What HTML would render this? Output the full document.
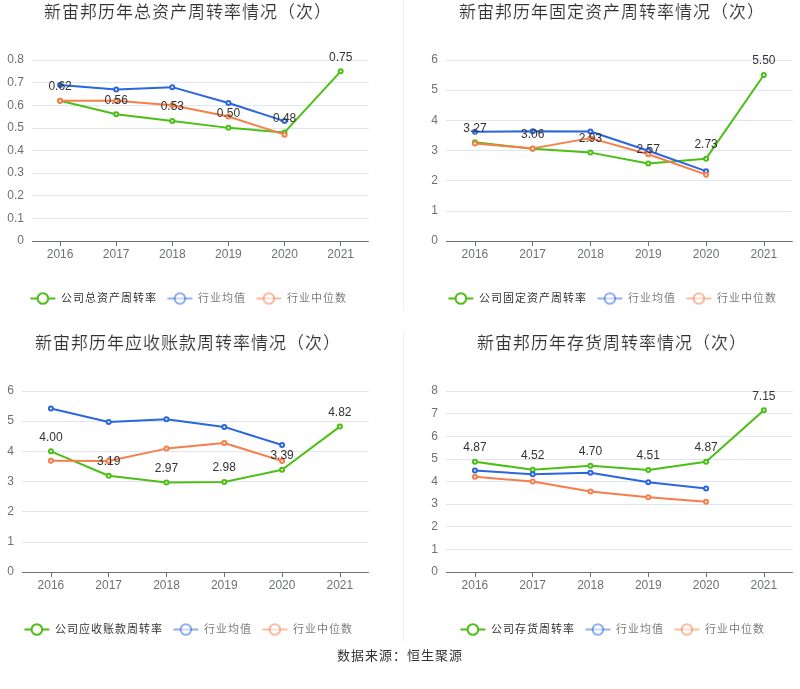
<!DOCTYPE html>
<html lang="zh-CN"><head><meta charset="utf-8"><title>新宙邦周转率情况</title>
<style>html,body{margin:0;padding:0;background:#fff;width:800px;height:689px;overflow:hidden;font-family:'Liberation Sans', sans-serif;}svg{display:block;will-change:transform}</style>
</head><body>
<svg width="800" height="689" viewBox="0 0 800 689" font-family="'Liberation Sans', sans-serif">
<rect width="800" height="689" fill="#fff"/>
<line x1="403.5" y1="0" x2="403.5" y2="311" stroke="#eeeeee" stroke-width="1"/>
<line x1="403.5" y1="331" x2="403.5" y2="641" stroke="#eeeeee" stroke-width="1"/>
<text x="44.00" y="18.0" font-size="17" letter-spacing="1" fill="#333" stroke="#fff" stroke-width="0.15">新宙邦历年总资产周转率情况（次）</text>
<line x1="32" y1="218.5" x2="368.75" y2="218.5" stroke="#e0e6f1" stroke-width="1"/>
<line x1="32" y1="195.5" x2="368.75" y2="195.5" stroke="#e0e6f1" stroke-width="1"/>
<line x1="32" y1="173.5" x2="368.75" y2="173.5" stroke="#e0e6f1" stroke-width="1"/>
<line x1="32" y1="150.5" x2="368.75" y2="150.5" stroke="#e0e6f1" stroke-width="1"/>
<line x1="32" y1="128.5" x2="368.75" y2="128.5" stroke="#e0e6f1" stroke-width="1"/>
<line x1="32" y1="105.5" x2="368.75" y2="105.5" stroke="#e0e6f1" stroke-width="1"/>
<line x1="32" y1="82.5" x2="368.75" y2="82.5" stroke="#e0e6f1" stroke-width="1"/>
<line x1="32" y1="60.5" x2="368.75" y2="60.5" stroke="#e0e6f1" stroke-width="1"/>
<text x="24" y="244" text-anchor="end" font-size="12" fill="#6e7079">0</text>
<text x="24" y="222" text-anchor="end" font-size="12" fill="#6e7079">0.1</text>
<text x="24" y="199" text-anchor="end" font-size="12" fill="#6e7079">0.2</text>
<text x="24" y="176" text-anchor="end" font-size="12" fill="#6e7079">0.3</text>
<text x="24" y="154" text-anchor="end" font-size="12" fill="#6e7079">0.4</text>
<text x="24" y="131" text-anchor="end" font-size="12" fill="#6e7079">0.5</text>
<text x="24" y="109" text-anchor="end" font-size="12" fill="#6e7079">0.6</text>
<text x="24" y="86" text-anchor="end" font-size="12" fill="#6e7079">0.7</text>
<text x="24" y="63" text-anchor="end" font-size="12" fill="#6e7079">0.8</text>
<line x1="32" y1="241.5" x2="368.75" y2="241.5" stroke="#6e7079" stroke-width="1"/>
<line x1="60.5" y1="241.5" x2="60.5" y2="246.0" stroke="#6e7079" stroke-width="1"/>
<text x="60.06" y="258.19" text-anchor="middle" font-size="12" fill="#6e7079">2016</text>
<line x1="116.5" y1="241.5" x2="116.5" y2="246.0" stroke="#6e7079" stroke-width="1"/>
<text x="116.19" y="258.19" text-anchor="middle" font-size="12" fill="#6e7079">2017</text>
<line x1="172.5" y1="241.5" x2="172.5" y2="246.0" stroke="#6e7079" stroke-width="1"/>
<text x="172.31" y="258.19" text-anchor="middle" font-size="12" fill="#6e7079">2018</text>
<line x1="228.5" y1="241.5" x2="228.5" y2="246.0" stroke="#6e7079" stroke-width="1"/>
<text x="228.44" y="258.19" text-anchor="middle" font-size="12" fill="#6e7079">2019</text>
<line x1="284.5" y1="241.5" x2="284.5" y2="246.0" stroke="#6e7079" stroke-width="1"/>
<text x="284.56" y="258.19" text-anchor="middle" font-size="12" fill="#6e7079">2020</text>
<line x1="340.5" y1="241.5" x2="340.5" y2="246.0" stroke="#6e7079" stroke-width="1"/>
<text x="340.69" y="258.19" text-anchor="middle" font-size="12" fill="#6e7079">2021</text>
<polyline points="60.06,100.72 116.19,114.30 172.31,121.08 228.44,127.87 284.56,132.40 340.69,71.31" fill="none" stroke="#4cbf16" stroke-width="2" stroke-linejoin="bevel"/>
<circle cx="60.06" cy="100.72" r="2" fill="#fff" stroke="#4cbf16" stroke-width="2"/>
<circle cx="116.19" cy="114.30" r="2" fill="#fff" stroke="#4cbf16" stroke-width="2"/>
<circle cx="172.31" cy="121.08" r="2" fill="#fff" stroke="#4cbf16" stroke-width="2"/>
<circle cx="228.44" cy="127.87" r="2" fill="#fff" stroke="#4cbf16" stroke-width="2"/>
<circle cx="284.56" cy="132.40" r="2" fill="#fff" stroke="#4cbf16" stroke-width="2"/>
<circle cx="340.69" cy="71.31" r="2" fill="#fff" stroke="#4cbf16" stroke-width="2"/>
<polyline points="60.06,84.89 116.19,89.41 172.31,87.15 228.44,102.99 284.56,121.08" fill="none" stroke="#2b66dc" stroke-width="2" stroke-linejoin="bevel"/>
<circle cx="60.06" cy="84.89" r="2" fill="#fff" stroke="#2b66dc" stroke-width="2"/>
<circle cx="116.19" cy="89.41" r="2" fill="#fff" stroke="#2b66dc" stroke-width="2"/>
<circle cx="172.31" cy="87.15" r="2" fill="#fff" stroke="#2b66dc" stroke-width="2"/>
<circle cx="228.44" cy="102.99" r="2" fill="#fff" stroke="#2b66dc" stroke-width="2"/>
<circle cx="284.56" cy="121.08" r="2" fill="#fff" stroke="#2b66dc" stroke-width="2"/>
<polyline points="60.06,100.72 116.19,100.72 172.31,105.25 228.44,116.56 284.56,134.66" fill="none" stroke="#f67e4b" stroke-width="2" stroke-linejoin="bevel"/>
<circle cx="60.06" cy="100.72" r="2" fill="#fff" stroke="#f67e4b" stroke-width="2"/>
<circle cx="116.19" cy="100.72" r="2" fill="#fff" stroke="#f67e4b" stroke-width="2"/>
<circle cx="172.31" cy="105.25" r="2" fill="#fff" stroke="#f67e4b" stroke-width="2"/>
<circle cx="228.44" cy="116.56" r="2" fill="#fff" stroke="#f67e4b" stroke-width="2"/>
<circle cx="284.56" cy="134.66" r="2" fill="#fff" stroke="#f67e4b" stroke-width="2"/>
<text x="60.06" y="90" text-anchor="middle" font-size="12" fill="#333333">0.62</text>
<text x="116.19" y="104" text-anchor="middle" font-size="12" fill="#333333">0.56</text>
<text x="172.31" y="110" text-anchor="middle" font-size="12" fill="#333333">0.53</text>
<text x="228.44" y="117" text-anchor="middle" font-size="12" fill="#333333">0.50</text>
<text x="284.56" y="122" text-anchor="middle" font-size="12" fill="#333333">0.48</text>
<text x="340.69" y="61" text-anchor="middle" font-size="12" fill="#333333">0.75</text>
<g>
<line x1="30.400000000000006" y1="298.5" x2="55.400000000000006" y2="298.5" stroke="#4cbf16" stroke-width="2"/>
</g>
<circle cx="42.900000000000006" cy="298.5" r="5.3" fill="#fff" stroke="#4cbf16" stroke-width="2" />
<text x="60.900000000000006" y="302.0" font-size="11" letter-spacing="1" fill="#333333" >公司总资产周转率</text>
<g opacity="0.5">
<line x1="167.4" y1="298.5" x2="192.4" y2="298.5" stroke="#2b66dc" stroke-width="2"/>
</g>
<circle cx="179.9" cy="298.5" r="5.3" fill="#fff" stroke="#2b66dc" stroke-width="2" opacity="0.5"/>
<text x="197.9" y="302.0" font-size="11" letter-spacing="1" fill="#333333" opacity="0.65">行业均值</text>
<g opacity="0.5">
<line x1="256.4" y1="298.5" x2="281.4" y2="298.5" stroke="#f67e4b" stroke-width="2"/>
</g>
<circle cx="268.9" cy="298.5" r="5.3" fill="#fff" stroke="#f67e4b" stroke-width="2" opacity="0.5"/>
<text x="286.9" y="302.0" font-size="11" letter-spacing="1" fill="#333333" opacity="0.65">行业中位数</text>
<text x="459.00" y="18.0" font-size="17" letter-spacing="1" fill="#333" stroke="#fff" stroke-width="0.15">新宙邦历年固定资产周转率情况（次）</text>
<line x1="446" y1="211.5" x2="792.75" y2="211.5" stroke="#e0e6f1" stroke-width="1"/>
<line x1="446" y1="180.5" x2="792.75" y2="180.5" stroke="#e0e6f1" stroke-width="1"/>
<line x1="446" y1="150.5" x2="792.75" y2="150.5" stroke="#e0e6f1" stroke-width="1"/>
<line x1="446" y1="120.5" x2="792.75" y2="120.5" stroke="#e0e6f1" stroke-width="1"/>
<line x1="446" y1="90.5" x2="792.75" y2="90.5" stroke="#e0e6f1" stroke-width="1"/>
<line x1="446" y1="60.5" x2="792.75" y2="60.5" stroke="#e0e6f1" stroke-width="1"/>
<text x="438" y="244" text-anchor="end" font-size="12" fill="#6e7079">0</text>
<text x="438" y="214" text-anchor="end" font-size="12" fill="#6e7079">1</text>
<text x="438" y="184" text-anchor="end" font-size="12" fill="#6e7079">2</text>
<text x="438" y="154" text-anchor="end" font-size="12" fill="#6e7079">3</text>
<text x="438" y="124" text-anchor="end" font-size="12" fill="#6e7079">4</text>
<text x="438" y="93" text-anchor="end" font-size="12" fill="#6e7079">5</text>
<text x="438" y="63" text-anchor="end" font-size="12" fill="#6e7079">6</text>
<line x1="446" y1="241.5" x2="792.75" y2="241.5" stroke="#6e7079" stroke-width="1"/>
<line x1="475.5" y1="241.5" x2="475.5" y2="246.0" stroke="#6e7079" stroke-width="1"/>
<text x="474.90" y="258.19" text-anchor="middle" font-size="12" fill="#6e7079">2016</text>
<line x1="532.5" y1="241.5" x2="532.5" y2="246.0" stroke="#6e7079" stroke-width="1"/>
<text x="532.69" y="258.19" text-anchor="middle" font-size="12" fill="#6e7079">2017</text>
<line x1="590.5" y1="241.5" x2="590.5" y2="246.0" stroke="#6e7079" stroke-width="1"/>
<text x="590.48" y="258.19" text-anchor="middle" font-size="12" fill="#6e7079">2018</text>
<line x1="648.5" y1="241.5" x2="648.5" y2="246.0" stroke="#6e7079" stroke-width="1"/>
<text x="648.27" y="258.19" text-anchor="middle" font-size="12" fill="#6e7079">2019</text>
<line x1="706.5" y1="241.5" x2="706.5" y2="246.0" stroke="#6e7079" stroke-width="1"/>
<text x="706.06" y="258.19" text-anchor="middle" font-size="12" fill="#6e7079">2020</text>
<line x1="764.5" y1="241.5" x2="764.5" y2="246.0" stroke="#6e7079" stroke-width="1"/>
<text x="763.85" y="258.19" text-anchor="middle" font-size="12" fill="#6e7079">2021</text>
<polyline points="474.90,142.35 532.69,148.69 590.48,152.61 648.27,163.47 706.06,158.64 763.85,75.08" fill="none" stroke="#4cbf16" stroke-width="2" stroke-linejoin="bevel"/>
<circle cx="474.90" cy="142.35" r="2" fill="#fff" stroke="#4cbf16" stroke-width="2"/>
<circle cx="532.69" cy="148.69" r="2" fill="#fff" stroke="#4cbf16" stroke-width="2"/>
<circle cx="590.48" cy="152.61" r="2" fill="#fff" stroke="#4cbf16" stroke-width="2"/>
<circle cx="648.27" cy="163.47" r="2" fill="#fff" stroke="#4cbf16" stroke-width="2"/>
<circle cx="706.06" cy="158.64" r="2" fill="#fff" stroke="#4cbf16" stroke-width="2"/>
<circle cx="763.85" cy="75.08" r="2" fill="#fff" stroke="#4cbf16" stroke-width="2"/>
<polyline points="474.90,131.73 532.69,131.34 590.48,131.49 648.27,150.80 706.06,171.16" fill="none" stroke="#2b66dc" stroke-width="2" stroke-linejoin="bevel"/>
<circle cx="474.90" cy="131.73" r="2" fill="#fff" stroke="#2b66dc" stroke-width="2"/>
<circle cx="532.69" cy="131.34" r="2" fill="#fff" stroke="#2b66dc" stroke-width="2"/>
<circle cx="590.48" cy="131.49" r="2" fill="#fff" stroke="#2b66dc" stroke-width="2"/>
<circle cx="648.27" cy="150.80" r="2" fill="#fff" stroke="#2b66dc" stroke-width="2"/>
<circle cx="706.06" cy="171.16" r="2" fill="#fff" stroke="#2b66dc" stroke-width="2"/>
<polyline points="474.90,143.41 532.69,148.38 590.48,138.13 648.27,154.27 706.06,174.63" fill="none" stroke="#f67e4b" stroke-width="2" stroke-linejoin="bevel"/>
<circle cx="474.90" cy="143.41" r="2" fill="#fff" stroke="#f67e4b" stroke-width="2"/>
<circle cx="532.69" cy="148.38" r="2" fill="#fff" stroke="#f67e4b" stroke-width="2"/>
<circle cx="590.48" cy="138.13" r="2" fill="#fff" stroke="#f67e4b" stroke-width="2"/>
<circle cx="648.27" cy="154.27" r="2" fill="#fff" stroke="#f67e4b" stroke-width="2"/>
<circle cx="706.06" cy="174.63" r="2" fill="#fff" stroke="#f67e4b" stroke-width="2"/>
<text x="474.90" y="132" text-anchor="middle" font-size="12" fill="#333333">3.27</text>
<text x="532.69" y="138" text-anchor="middle" font-size="12" fill="#333333">3.06</text>
<text x="590.48" y="142" text-anchor="middle" font-size="12" fill="#333333">2.93</text>
<text x="648.27" y="153" text-anchor="middle" font-size="12" fill="#333333">2.57</text>
<text x="706.06" y="148" text-anchor="middle" font-size="12" fill="#333333">2.73</text>
<text x="763.85" y="64" text-anchor="middle" font-size="12" fill="#333333">5.50</text>
<g>
<line x1="448.4" y1="298.5" x2="473.4" y2="298.5" stroke="#4cbf16" stroke-width="2"/>
</g>
<circle cx="460.9" cy="298.5" r="5.3" fill="#fff" stroke="#4cbf16" stroke-width="2" />
<text x="478.9" y="302.0" font-size="11" letter-spacing="1" fill="#333333" >公司固定资产周转率</text>
<g opacity="0.5">
<line x1="597.4" y1="298.5" x2="622.4" y2="298.5" stroke="#2b66dc" stroke-width="2"/>
</g>
<circle cx="609.9" cy="298.5" r="5.3" fill="#fff" stroke="#2b66dc" stroke-width="2" opacity="0.5"/>
<text x="627.9" y="302.0" font-size="11" letter-spacing="1" fill="#333333" opacity="0.65">行业均值</text>
<g opacity="0.5">
<line x1="686.4" y1="298.5" x2="711.4" y2="298.5" stroke="#f67e4b" stroke-width="2"/>
</g>
<circle cx="698.9" cy="298.5" r="5.3" fill="#fff" stroke="#f67e4b" stroke-width="2" opacity="0.5"/>
<text x="716.9" y="302.0" font-size="11" letter-spacing="1" fill="#333333" opacity="0.65">行业中位数</text>
<text x="35.00" y="349.0" font-size="17" letter-spacing="1" fill="#333" stroke="#fff" stroke-width="0.15">新宙邦历年应收账款周转率情况（次）</text>
<line x1="22" y1="542.5" x2="368.75" y2="542.5" stroke="#e0e6f1" stroke-width="1"/>
<line x1="22" y1="511.5" x2="368.75" y2="511.5" stroke="#e0e6f1" stroke-width="1"/>
<line x1="22" y1="481.5" x2="368.75" y2="481.5" stroke="#e0e6f1" stroke-width="1"/>
<line x1="22" y1="451.5" x2="368.75" y2="451.5" stroke="#e0e6f1" stroke-width="1"/>
<line x1="22" y1="421.5" x2="368.75" y2="421.5" stroke="#e0e6f1" stroke-width="1"/>
<line x1="22" y1="391.5" x2="368.75" y2="391.5" stroke="#e0e6f1" stroke-width="1"/>
<text x="14" y="575" text-anchor="end" font-size="12" fill="#6e7079">0</text>
<text x="14" y="545" text-anchor="end" font-size="12" fill="#6e7079">1</text>
<text x="14" y="515" text-anchor="end" font-size="12" fill="#6e7079">2</text>
<text x="14" y="485" text-anchor="end" font-size="12" fill="#6e7079">3</text>
<text x="14" y="455" text-anchor="end" font-size="12" fill="#6e7079">4</text>
<text x="14" y="424" text-anchor="end" font-size="12" fill="#6e7079">5</text>
<text x="14" y="394" text-anchor="end" font-size="12" fill="#6e7079">6</text>
<line x1="22" y1="572.5" x2="368.75" y2="572.5" stroke="#6e7079" stroke-width="1"/>
<line x1="51.5" y1="572.5" x2="51.5" y2="577.0" stroke="#6e7079" stroke-width="1"/>
<text x="50.90" y="589.19" text-anchor="middle" font-size="12" fill="#6e7079">2016</text>
<line x1="108.5" y1="572.5" x2="108.5" y2="577.0" stroke="#6e7079" stroke-width="1"/>
<text x="108.69" y="589.19" text-anchor="middle" font-size="12" fill="#6e7079">2017</text>
<line x1="166.5" y1="572.5" x2="166.5" y2="577.0" stroke="#6e7079" stroke-width="1"/>
<text x="166.48" y="589.19" text-anchor="middle" font-size="12" fill="#6e7079">2018</text>
<line x1="224.5" y1="572.5" x2="224.5" y2="577.0" stroke="#6e7079" stroke-width="1"/>
<text x="224.27" y="589.19" text-anchor="middle" font-size="12" fill="#6e7079">2019</text>
<line x1="282.5" y1="572.5" x2="282.5" y2="577.0" stroke="#6e7079" stroke-width="1"/>
<text x="282.06" y="589.19" text-anchor="middle" font-size="12" fill="#6e7079">2020</text>
<line x1="340.5" y1="572.5" x2="340.5" y2="577.0" stroke="#6e7079" stroke-width="1"/>
<text x="339.85" y="589.19" text-anchor="middle" font-size="12" fill="#6e7079">2021</text>
<polyline points="50.90,451.33 108.69,475.76 166.48,482.40 224.27,482.10 282.06,469.73 339.85,426.59" fill="none" stroke="#4cbf16" stroke-width="2" stroke-linejoin="bevel"/>
<circle cx="50.90" cy="451.33" r="2" fill="#fff" stroke="#4cbf16" stroke-width="2"/>
<circle cx="108.69" cy="475.76" r="2" fill="#fff" stroke="#4cbf16" stroke-width="2"/>
<circle cx="166.48" cy="482.40" r="2" fill="#fff" stroke="#4cbf16" stroke-width="2"/>
<circle cx="224.27" cy="482.10" r="2" fill="#fff" stroke="#4cbf16" stroke-width="2"/>
<circle cx="282.06" cy="469.73" r="2" fill="#fff" stroke="#4cbf16" stroke-width="2"/>
<circle cx="339.85" cy="426.59" r="2" fill="#fff" stroke="#4cbf16" stroke-width="2"/>
<polyline points="50.90,408.50 108.69,422.07 166.48,419.20 224.27,426.90 282.06,445.00" fill="none" stroke="#2b66dc" stroke-width="2" stroke-linejoin="bevel"/>
<circle cx="50.90" cy="408.50" r="2" fill="#fff" stroke="#2b66dc" stroke-width="2"/>
<circle cx="108.69" cy="422.07" r="2" fill="#fff" stroke="#2b66dc" stroke-width="2"/>
<circle cx="166.48" cy="419.20" r="2" fill="#fff" stroke="#2b66dc" stroke-width="2"/>
<circle cx="224.27" cy="426.90" r="2" fill="#fff" stroke="#2b66dc" stroke-width="2"/>
<circle cx="282.06" cy="445.00" r="2" fill="#fff" stroke="#2b66dc" stroke-width="2"/>
<polyline points="50.90,460.68 108.69,460.98 166.48,448.62 224.27,443.03 282.06,460.98" fill="none" stroke="#f67e4b" stroke-width="2" stroke-linejoin="bevel"/>
<circle cx="50.90" cy="460.68" r="2" fill="#fff" stroke="#f67e4b" stroke-width="2"/>
<circle cx="108.69" cy="460.98" r="2" fill="#fff" stroke="#f67e4b" stroke-width="2"/>
<circle cx="166.48" cy="448.62" r="2" fill="#fff" stroke="#f67e4b" stroke-width="2"/>
<circle cx="224.27" cy="443.03" r="2" fill="#fff" stroke="#f67e4b" stroke-width="2"/>
<circle cx="282.06" cy="460.98" r="2" fill="#fff" stroke="#f67e4b" stroke-width="2"/>
<text x="50.90" y="441" text-anchor="middle" font-size="12" fill="#333333">4.00</text>
<text x="108.69" y="465" text-anchor="middle" font-size="12" fill="#333333">3.19</text>
<text x="166.48" y="472" text-anchor="middle" font-size="12" fill="#333333">2.97</text>
<text x="224.27" y="471" text-anchor="middle" font-size="12" fill="#333333">2.98</text>
<text x="282.06" y="459" text-anchor="middle" font-size="12" fill="#333333">3.39</text>
<text x="339.85" y="416" text-anchor="middle" font-size="12" fill="#333333">4.82</text>
<g>
<line x1="24.400000000000006" y1="629.5" x2="49.400000000000006" y2="629.5" stroke="#4cbf16" stroke-width="2"/>
</g>
<circle cx="36.900000000000006" cy="629.5" r="5.3" fill="#fff" stroke="#4cbf16" stroke-width="2" />
<text x="54.900000000000006" y="633.0" font-size="11" letter-spacing="1" fill="#333333" >公司应收账款周转率</text>
<g opacity="0.5">
<line x1="173.4" y1="629.5" x2="198.4" y2="629.5" stroke="#2b66dc" stroke-width="2"/>
</g>
<circle cx="185.9" cy="629.5" r="5.3" fill="#fff" stroke="#2b66dc" stroke-width="2" opacity="0.5"/>
<text x="203.9" y="633.0" font-size="11" letter-spacing="1" fill="#333333" opacity="0.65">行业均值</text>
<g opacity="0.5">
<line x1="262.4" y1="629.5" x2="287.4" y2="629.5" stroke="#f67e4b" stroke-width="2"/>
</g>
<circle cx="274.9" cy="629.5" r="5.3" fill="#fff" stroke="#f67e4b" stroke-width="2" opacity="0.5"/>
<text x="292.9" y="633.0" font-size="11" letter-spacing="1" fill="#333333" opacity="0.65">行业中位数</text>
<text x="477.00" y="349.0" font-size="17" letter-spacing="1" fill="#333" stroke="#fff" stroke-width="0.15">新宙邦历年存货周转率情况（次）</text>
<line x1="446" y1="549.5" x2="792.75" y2="549.5" stroke="#e0e6f1" stroke-width="1"/>
<line x1="446" y1="526.5" x2="792.75" y2="526.5" stroke="#e0e6f1" stroke-width="1"/>
<line x1="446" y1="504.5" x2="792.75" y2="504.5" stroke="#e0e6f1" stroke-width="1"/>
<line x1="446" y1="481.5" x2="792.75" y2="481.5" stroke="#e0e6f1" stroke-width="1"/>
<line x1="446" y1="459.5" x2="792.75" y2="459.5" stroke="#e0e6f1" stroke-width="1"/>
<line x1="446" y1="436.5" x2="792.75" y2="436.5" stroke="#e0e6f1" stroke-width="1"/>
<line x1="446" y1="413.5" x2="792.75" y2="413.5" stroke="#e0e6f1" stroke-width="1"/>
<line x1="446" y1="391.5" x2="792.75" y2="391.5" stroke="#e0e6f1" stroke-width="1"/>
<text x="438" y="575" text-anchor="end" font-size="12" fill="#6e7079">0</text>
<text x="438" y="553" text-anchor="end" font-size="12" fill="#6e7079">1</text>
<text x="438" y="530" text-anchor="end" font-size="12" fill="#6e7079">2</text>
<text x="438" y="507" text-anchor="end" font-size="12" fill="#6e7079">3</text>
<text x="438" y="485" text-anchor="end" font-size="12" fill="#6e7079">4</text>
<text x="438" y="462" text-anchor="end" font-size="12" fill="#6e7079">5</text>
<text x="438" y="440" text-anchor="end" font-size="12" fill="#6e7079">6</text>
<text x="438" y="417" text-anchor="end" font-size="12" fill="#6e7079">7</text>
<text x="438" y="394" text-anchor="end" font-size="12" fill="#6e7079">8</text>
<line x1="446" y1="572.5" x2="792.75" y2="572.5" stroke="#6e7079" stroke-width="1"/>
<line x1="475.5" y1="572.5" x2="475.5" y2="577.0" stroke="#6e7079" stroke-width="1"/>
<text x="474.90" y="589.19" text-anchor="middle" font-size="12" fill="#6e7079">2016</text>
<line x1="532.5" y1="572.5" x2="532.5" y2="577.0" stroke="#6e7079" stroke-width="1"/>
<text x="532.69" y="589.19" text-anchor="middle" font-size="12" fill="#6e7079">2017</text>
<line x1="590.5" y1="572.5" x2="590.5" y2="577.0" stroke="#6e7079" stroke-width="1"/>
<text x="590.48" y="589.19" text-anchor="middle" font-size="12" fill="#6e7079">2018</text>
<line x1="648.5" y1="572.5" x2="648.5" y2="577.0" stroke="#6e7079" stroke-width="1"/>
<text x="648.27" y="589.19" text-anchor="middle" font-size="12" fill="#6e7079">2019</text>
<line x1="706.5" y1="572.5" x2="706.5" y2="577.0" stroke="#6e7079" stroke-width="1"/>
<text x="706.06" y="589.19" text-anchor="middle" font-size="12" fill="#6e7079">2020</text>
<line x1="764.5" y1="572.5" x2="764.5" y2="577.0" stroke="#6e7079" stroke-width="1"/>
<text x="763.85" y="589.19" text-anchor="middle" font-size="12" fill="#6e7079">2021</text>
<polyline points="474.90,461.81 532.69,469.73 590.48,465.66 648.27,469.96 706.06,461.81 763.85,410.23" fill="none" stroke="#4cbf16" stroke-width="2" stroke-linejoin="bevel"/>
<circle cx="474.90" cy="461.81" r="2" fill="#fff" stroke="#4cbf16" stroke-width="2"/>
<circle cx="532.69" cy="469.73" r="2" fill="#fff" stroke="#4cbf16" stroke-width="2"/>
<circle cx="590.48" cy="465.66" r="2" fill="#fff" stroke="#4cbf16" stroke-width="2"/>
<circle cx="648.27" cy="469.96" r="2" fill="#fff" stroke="#4cbf16" stroke-width="2"/>
<circle cx="706.06" cy="461.81" r="2" fill="#fff" stroke="#4cbf16" stroke-width="2"/>
<circle cx="763.85" cy="410.23" r="2" fill="#fff" stroke="#4cbf16" stroke-width="2"/>
<polyline points="474.90,470.41 532.69,474.37 590.48,472.67 648.27,482.17 706.06,488.40" fill="none" stroke="#2b66dc" stroke-width="2" stroke-linejoin="bevel"/>
<circle cx="474.90" cy="470.41" r="2" fill="#fff" stroke="#2b66dc" stroke-width="2"/>
<circle cx="532.69" cy="474.37" r="2" fill="#fff" stroke="#2b66dc" stroke-width="2"/>
<circle cx="590.48" cy="472.67" r="2" fill="#fff" stroke="#2b66dc" stroke-width="2"/>
<circle cx="648.27" cy="482.17" r="2" fill="#fff" stroke="#2b66dc" stroke-width="2"/>
<circle cx="706.06" cy="488.40" r="2" fill="#fff" stroke="#2b66dc" stroke-width="2"/>
<polyline points="474.90,476.74 532.69,481.50 590.48,491.56 648.27,497.22 706.06,501.86" fill="none" stroke="#f67e4b" stroke-width="2" stroke-linejoin="bevel"/>
<circle cx="474.90" cy="476.74" r="2" fill="#fff" stroke="#f67e4b" stroke-width="2"/>
<circle cx="532.69" cy="481.50" r="2" fill="#fff" stroke="#f67e4b" stroke-width="2"/>
<circle cx="590.48" cy="491.56" r="2" fill="#fff" stroke="#f67e4b" stroke-width="2"/>
<circle cx="648.27" cy="497.22" r="2" fill="#fff" stroke="#f67e4b" stroke-width="2"/>
<circle cx="706.06" cy="501.86" r="2" fill="#fff" stroke="#f67e4b" stroke-width="2"/>
<text x="474.90" y="451" text-anchor="middle" font-size="12" fill="#333333">4.87</text>
<text x="532.69" y="459" text-anchor="middle" font-size="12" fill="#333333">4.52</text>
<text x="590.48" y="455" text-anchor="middle" font-size="12" fill="#333333">4.70</text>
<text x="648.27" y="459" text-anchor="middle" font-size="12" fill="#333333">4.51</text>
<text x="706.06" y="451" text-anchor="middle" font-size="12" fill="#333333">4.87</text>
<text x="763.85" y="400" text-anchor="middle" font-size="12" fill="#333333">7.15</text>
<g>
<line x1="460.4" y1="629.5" x2="485.4" y2="629.5" stroke="#4cbf16" stroke-width="2"/>
</g>
<circle cx="472.9" cy="629.5" r="5.3" fill="#fff" stroke="#4cbf16" stroke-width="2" />
<text x="490.9" y="633.0" font-size="11" letter-spacing="1" fill="#333333" >公司存货周转率</text>
<g opacity="0.5">
<line x1="585.4" y1="629.5" x2="610.4" y2="629.5" stroke="#2b66dc" stroke-width="2"/>
</g>
<circle cx="597.9" cy="629.5" r="5.3" fill="#fff" stroke="#2b66dc" stroke-width="2" opacity="0.5"/>
<text x="615.9" y="633.0" font-size="11" letter-spacing="1" fill="#333333" opacity="0.65">行业均值</text>
<g opacity="0.5">
<line x1="674.4" y1="629.5" x2="699.4" y2="629.5" stroke="#f67e4b" stroke-width="2"/>
</g>
<circle cx="686.9" cy="629.5" r="5.3" fill="#fff" stroke="#f67e4b" stroke-width="2" opacity="0.5"/>
<text x="704.9" y="633.0" font-size="11" letter-spacing="1" fill="#333333" opacity="0.65">行业中位数</text>
<text x="337" y="660" font-size="13" letter-spacing="1" fill="#333">数据来源：恒生聚源</text>
</svg>
</body></html>
